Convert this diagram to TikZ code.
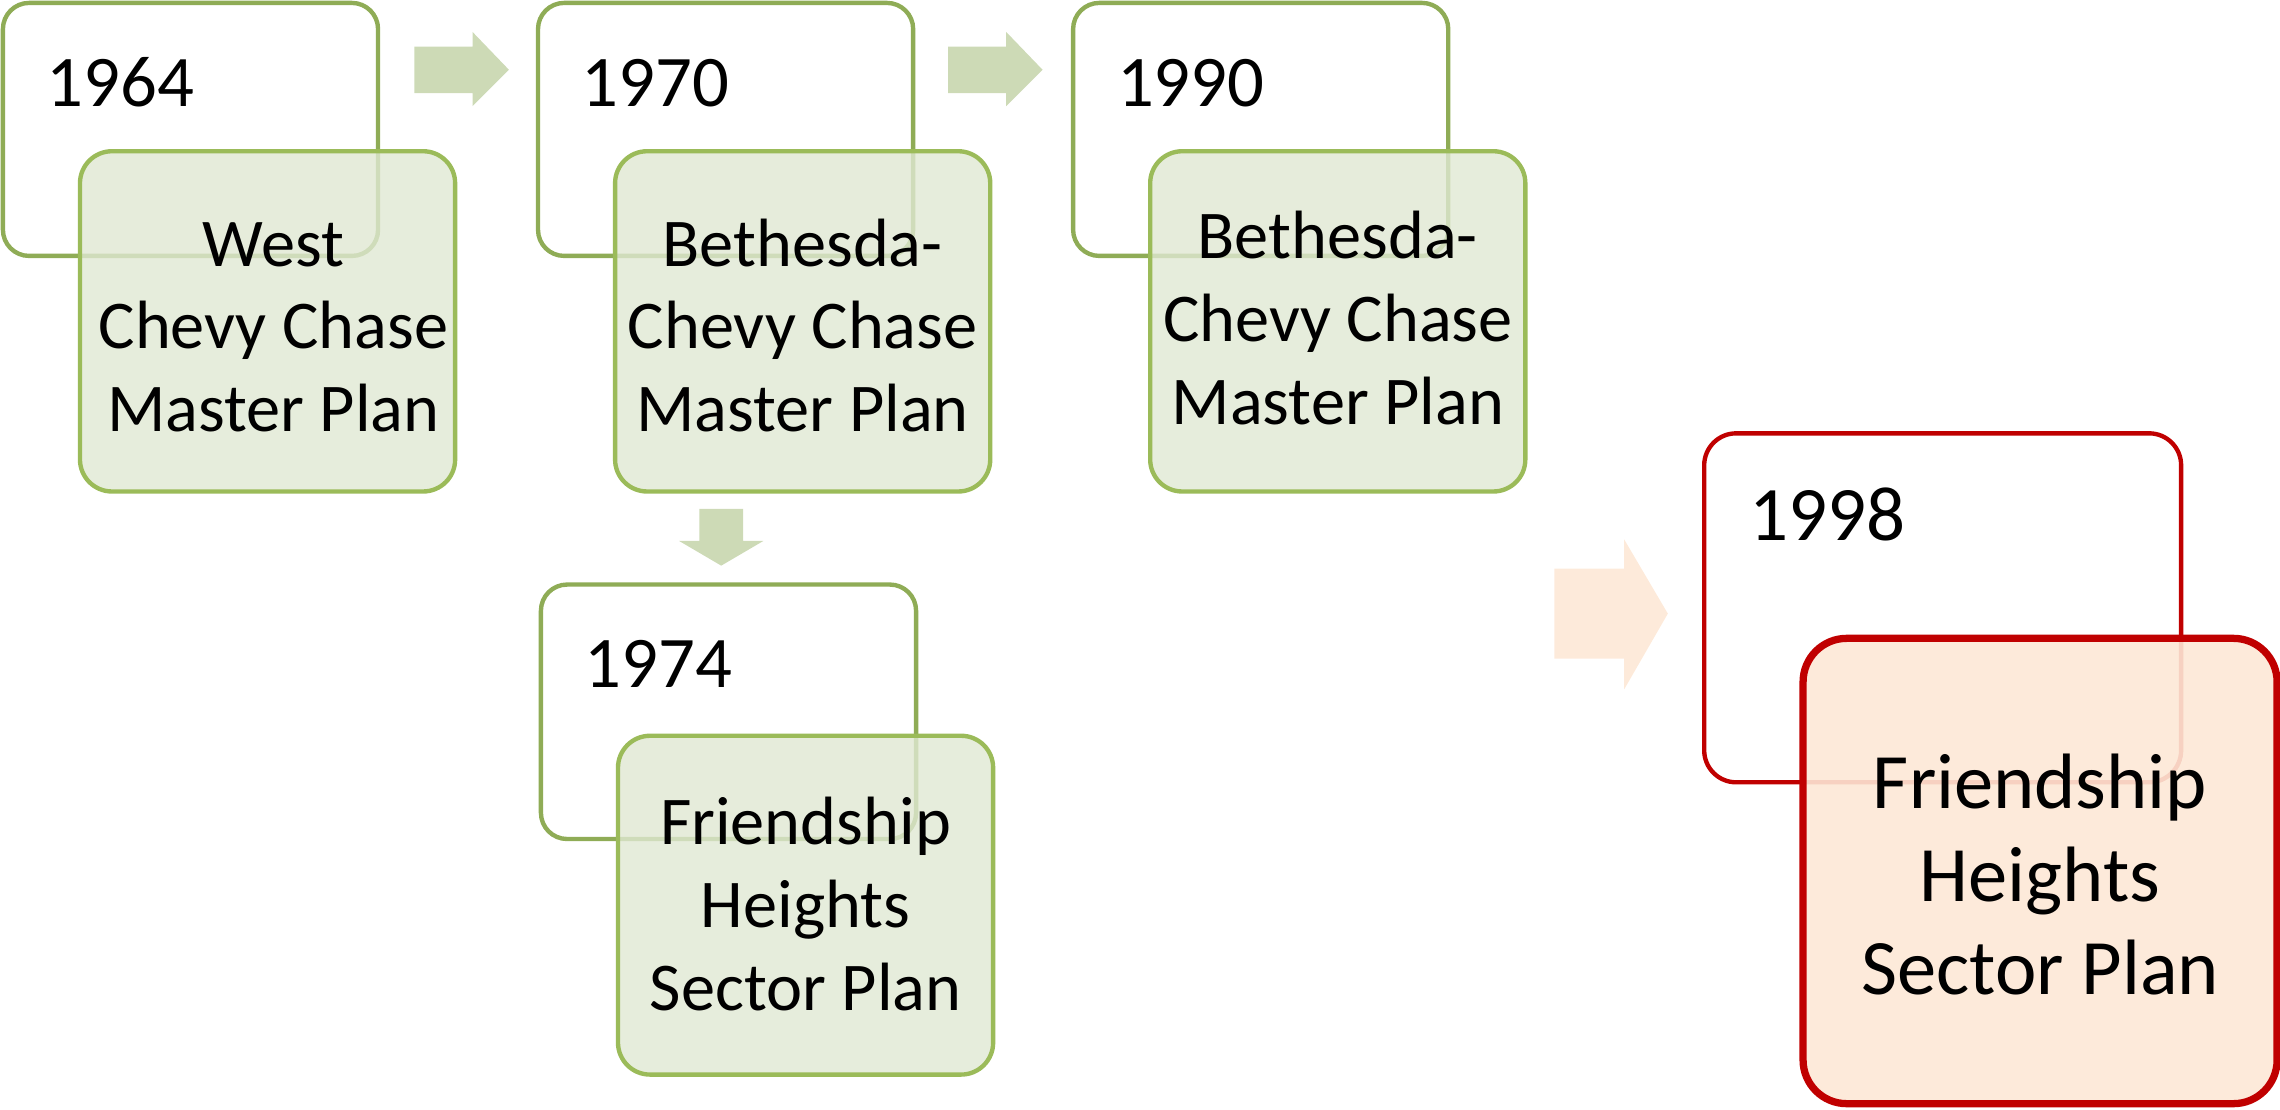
\documentclass[tikz,border=0pt]{standalone}
\usepackage{fontspec}
\setmainfont{Carlito}
\definecolor{gline}{HTML}{8FAC56}
\definecolor{gline2}{HTML}{9BBB59}
\definecolor{gfill}{RGB}{224,232,211}
\definecolor{garrow}{HTML}{CDDAB6}
\definecolor{rline}{HTML}{C00000}
\definecolor{rfill}{RGB}{253,232,214}
\definecolor{rarrow}{HTML}{FDEADA}
\begin{document}
\begin{tikzpicture}[x=1pt,y=-1pt,
  yearbox/.style={draw=gline,line width=3pt,rounded corners=18pt,fill=white,minimum width=258pt,minimum height=174pt,inner sep=0pt},
  planbox/.style={draw=gline2,line width=3pt,rounded corners=22pt,fill=gfill,fill opacity=0.8,draw opacity=1,minimum width=258pt,minimum height=234pt,inner sep=0pt},
  ryearbox/.style={draw=rline,line width=3pt,rounded corners=22pt,fill=white,minimum width=328pt,minimum height=240pt,inner sep=0pt},
  rplanbox/.style={draw=rline,line width=5pt,rounded corners=30pt,fill=rfill,fill opacity=0.9,draw opacity=1,minimum width=326pt,minimum height=320pt,inner sep=0pt},
  yeartext/.style={anchor=base west,inner sep=0pt,font=\fontsize{50pt}{60pt}\selectfont},
  plantext/.style={anchor=base,inner sep=0pt,align=center,font=\fontsize{47pt}{57pt}\selectfont},
  rplantext/.style={anchor=base,inner sep=0pt,align=center,font=\fontsize{54pt}{64pt}\selectfont},
  garr/.style={fill=garrow,draw=none},
  rarr/.style={fill=rarrow,draw=none}]
\useasboundingbox (0,0) rectangle (1568,763);
% 1964
\node[yearbox] (y1964) at (131,89) {};
\node[planbox] (p1964) at (184,221) {};
\node[yeartext] (t1964) at (32,73) {1964};
\node[plantext] (q1964) at (188,297) {West\\Chevy Chase\\Master Plan};
% 1970
\node[yearbox] (y1970) at (499,89) {};
\node[planbox] (p1970) at (552,221) {};
\node[yeartext] (t1970) at (400,73) {1970};
\node[plantext] (q1970) at (552,297) {Bethesda-\\Chevy Chase\\Master Plan};
% 1990
\node[yearbox] (y1990) at (867,89) {};
\node[planbox] (p1990) at (920,221) {};
\node[yeartext] (t1990) at (768,73) {1990};
\node[plantext] (q1990) at (920,292) {Bethesda-\\Chevy Chase\\Master Plan};
% 1974
\node[yearbox,minimum height=175pt] (y1974) at (501,489.5) {};
\node[planbox,minimum height=233pt] (p1974) at (554,622.5) {};
\node[yeartext] (t1974) at (402,473) {1974};
\node[plantext] (q1974) at (554,695) {Friendship\\Heights\\Sector Plan};
% 1998
\node[ryearbox] (y1998) at (1336,418) {};
\node[rplanbox] (p1998) at (1403,599) {};
\node[yeartext,font=\fontsize{53pt}{63pt}\selectfont] (t1998) at (1203,372) {1998};
\node[rplantext] (q1998) at (1403,684) {Friendship\\Heights\\Sector Plan};
% arrows
\fill[garr] (285,32) -- (325,32) -- (325,22) -- (350,48) -- (325,73) -- (325,64) -- (285,64) -- cycle;
\fill[garr] (652,32) -- (692,32) -- (692,22) -- (717,48) -- (692,73) -- (692,64) -- (652,64) -- cycle;
\fill[garr] (481,350) -- (511,350) -- (511,372) -- (525,372) -- (496,389) -- (467,372) -- (481,372) -- cycle;
\fill[rarr] (1069,391) -- (1117,391) -- (1117,371) -- (1147,422) -- (1117,474) -- (1117,453) -- (1069,453) -- cycle;
\end{tikzpicture}
\end{document}
